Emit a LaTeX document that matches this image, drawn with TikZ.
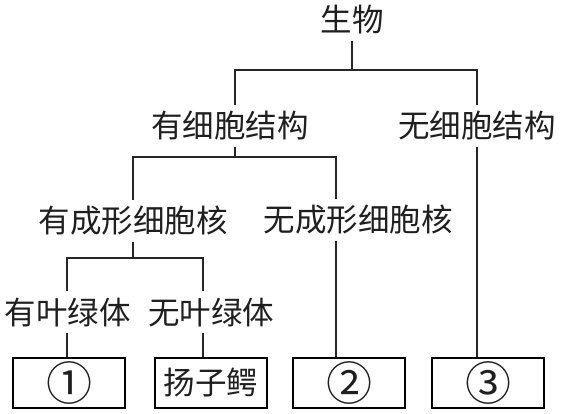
\documentclass[tikz,border=0pt]{standalone}
\usepackage{fontspec}
\newfontfamily\cjk{Noto Sans CJK SC}
\begin{document}
\begin{tikzpicture}[x=1pt,y=-1pt,
  lab/.style={inner xsep=0pt, inner ysep=9pt, text height=24pt, text depth=0pt,
    font=\cjk\fontsize{31.5pt}{32pt}\selectfont, text=black!88},
  leaf/.style={draw, line width=1.1pt, minimum width=112pt, minimum height=50pt,
    inner sep=0pt, font=\cjk\fontsize{31.5pt}{32pt}\selectfont, text=black!88},
  num/.style={leaf, font=\cjk\fontsize{46pt}{46pt}\selectfont},
  conn/.style={line width=1.1pt, draw=black!85}]
\useasboundingbox (0,0) rectangle (562,414);
\node[lab] (sw) at (352,20) {生物};
\node[lab] (ycell) at (230,126) {有细胞结构};
\node[lab] (wcell) at (477,126) {无细胞结构};
\node[lab] (yhe) at (133,221) {有成形细胞核};
\node[lab] (whe) at (358,220) {无成形细胞核};
\node[lab] (yyl) at (68,312) {有叶绿体};
\node[lab] (wyl) at (211,312) {无叶绿体};
\node[num] (b1) at (69,383) {①};
\node[leaf] (b2) at (211,383) {扬子鳄};
\node[num] (b3) at (349,383) {②};
\node[num] (b4) at (488,383) {③};
\coordinate (h1) at (0,70);
\coordinate (h2) at (0,157);
\coordinate (h3) at (0,258);
% level 1
\draw[conn] (sw.south) -- (sw.south |- h1);
\draw[conn] ([xshift=5pt]ycell.north) |- (h1 -| wcell.north) -- (wcell.north);
% level 2
\draw[conn] ([xshift=5pt]ycell.south) -- ([xshift=5pt]ycell.south |- h2);
\draw[conn] (yhe.north) |- ([xshift=-22pt]whe.north |- h2) -- ([xshift=-22pt]whe.north);
\draw[conn] ([xshift=-22pt]whe.south) -- ([xshift=-22pt]whe.south |- b3.north);
\draw[conn] (wcell.south) -- (wcell.south |- b4.north);
% level 3
\draw[conn] (yhe.south) -- (yhe.south |- h3);
\draw[conn] ([xshift=-1pt]yyl.north) |- ([xshift=-8pt]wyl.north |- h3) -- ([xshift=-8pt]wyl.north);
\draw[conn] ([xshift=-1pt]yyl.south) -- ([xshift=-1pt]yyl.south |- b1.north);
\draw[conn] ([xshift=-8pt]wyl.south) -- ([xshift=-8pt]wyl.south |- b2.north);
\end{tikzpicture}
\end{document}
